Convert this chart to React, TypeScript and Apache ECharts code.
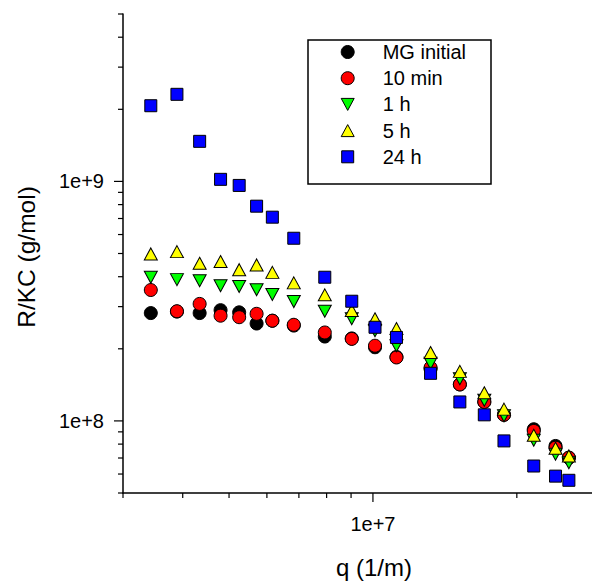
import React, { useEffect, useRef } from 'react';
import * as echarts from 'echarts';

const qValues = [3.43e6, 3.89e6, 4.34e6, 4.80e6, 5.25e6, 5.71e6, 6.16e6, 6.83e6, 7.93e6, 9.03e6, 1.01e7, 1.12e7, 1.32e7, 1.52e7, 1.71e7, 1.88e7, 2.17e7, 2.41e7, 2.57e7];
const mgInitial = [2.82e8, 2.86e8, 2.82e8, 2.90e8, 2.84e8, 2.55e8, 2.62e8, 2.50e8, 2.25e8, 2.21e8, 2.03e8, 1.85e8, 1.65e8, 1.42e8, 1.20e8, 1.06e8, 9.23e7, 7.86e7, 7.02e7];
const tenMin = [3.52e8, 2.87e8, 3.08e8, 2.75e8, 2.71e8, 2.80e8, 2.62e8, 2.52e8, 2.34e8, 2.20e8, 2.06e8, 1.84e8, 1.67e8, 1.42e8, 1.20e8, 1.06e8, 9.08e7, 7.73e7, 7.02e7];
const oneHour = [3.98e8, 3.89e8, 3.85e8, 3.67e8, 3.64e8, 3.53e8, 3.37e8, 3.15e8, 2.87e8, 2.67e8, 2.38e8, 2.06e8, 1.74e8, 1.50e8, 1.22e8, 1.05e8, 8.30e7, 7.26e7, 6.69e7];
const fiveHour = [4.98e8, 5.09e8, 4.55e8, 4.63e8, 4.28e8, 4.48e8, 4.17e8, 3.77e8, 3.36e8, 2.89e8, 2.67e8, 2.43e8, 1.93e8, 1.61e8, 1.31e8, 1.12e8, 8.71e7, 7.69e7, 7.14e7];
const day = [2.07e9, 2.31e9, 1.47e9, 1.02e9, 9.62e8, 7.88e8, 7.09e8, 5.79e8, 3.98e8, 3.16e8, 2.46e8, 2.23e8, 1.58e8, 1.20e8, 1.06e8, 8.25e7, 6.48e7, 5.88e7, 5.65e7];

const seriesNames = ['MG initial', '10 min', '1 h', '5 h', '24 h'];
const xTicks = [3e6, 4e6, 5e6, 6e6, 7e6, 8e6, 9e6, 1e7, 2e7, 3e7];
const yTicks = [5e7, 6e7, 7e7, 8e7, 9e7, 1e8, 2e8, 3e8, 4e8, 5e8, 6e8, 7e8, 8e8, 9e8, 1e9, 2e9, 3e9, 4e9, 5e9];
const X_MIN = 3e6, X_MAX = 3e7, Y_MIN = 5e7, Y_MAX = 5e9;

const FONT = '"Liberation Sans", Arial, sans-serif';

function isPow10(v: number) {
  const l = Math.log10(v);
  return Math.abs(l - Math.round(l)) < 1e-6;
}

export default function App() {
  const ref = useRef<HTMLDivElement>(null);
  useEffect(() => {
    document.body.style.margin = '0';
    const chart = echarts.init(ref.current!, null, { renderer: 'svg' });
    const pairs = (ys: number[]) => qValues.map((q, i) => [q, ys[i]]);
    const scatter = (name: string, ys: number[], symbol: string, color: string, size: any, rotate = 0) => ({
      type: 'scatter',
      name,
      data: pairs(ys),
      symbol,
      symbolSize: size,
      symbolRotate: rotate,
      itemStyle: { color, borderColor: '#000', borderWidth: 1, opacity: 1 },
      emphasis: { disabled: true },
    });
    const tickLine = '#000';
    const legendX = 347.7;
    const legendY0 = 52;
    const step = 26.2;
    const legendColors = ['#000000', '#ff0000', '#00ff00', '#ffff00', '#0000ff'];
    const legendGraphics: any[] = [
      { type: 'rect', shape: { x: 308, y: 40, width: 183, height: 144 }, style: { fill: '#fff', stroke: '#000', lineWidth: 1.5 }, z: 10 },
    ];
    seriesNames.forEach((n, i) => {
      const cy = legendY0 + i * step;
      const st = { fill: legendColors[i], stroke: '#000', lineWidth: 1 };
      let sym: any;
      if (i < 2) sym = { type: 'circle', shape: { cx: legendX, cy, r: 6.5 }, style: st };
      else if (i === 2) sym = { type: 'polygon', shape: { points: [[legendX - 6.5, cy - 6], [legendX + 6.5, cy - 6], [legendX, cy + 6]] }, style: st };
      else if (i === 3) sym = { type: 'polygon', shape: { points: [[legendX, cy - 6], [legendX + 6.5, cy + 6], [legendX - 6.5, cy + 6]] }, style: st };
      else sym = { type: 'rect', shape: { x: legendX - 6, y: cy - 6, width: 12, height: 12 }, style: st };
      sym.z = 11;
      legendGraphics.push(sym);
      legendGraphics.push({ type: 'text', x: 382.7, y: cy, z: 11, style: { text: n, fontSize: 20, fontFamily: FONT, fill: '#000', verticalAlign: 'middle' } });
    });

    chart.setOption({
      animation: false,
      backgroundColor: '#fff',
      grid: { left: 123, top: 14, width: 478, height: 479, containLabel: false, outerBoundsMode: 'none' },
      xAxis: {
        type: 'log', logBase: 10, min: X_MIN, max: X_MAX,
        axisLine: { show: true, lineStyle: { color: '#000', width: 1.5 } },
        axisTick: { show: false }, splitLine: { show: false },
        axisLabel: { margin: 21, fontSize: 20, fontFamily: FONT, color: '#000', formatter: (v: number) => (isPow10(v) ? '1e+' + Math.round(Math.log10(v)) : '') },
      },
      yAxis: {
        type: 'log', logBase: 10, min: Y_MIN, max: Y_MAX,
        axisLine: { show: true, lineStyle: { color: '#000', width: 1.5 } },
        axisTick: { show: false }, splitLine: { show: false },
        axisLabel: { margin: 19, fontSize: 20, fontFamily: FONT, color: '#000', formatter: (v: number) => (isPow10(v) ? '1e+' + Math.round(Math.log10(v)) : '') },
      },
      graphic: [
        { type: 'text', x: 374, y: 567, style: { text: 'q (1/m)', fontSize: 24, fontFamily: FONT, fill: '#000', align: 'center', verticalAlign: 'middle' } },
        { type: 'text', x: 26, y: 257, rotation: Math.PI / 2, style: { text: 'R/KC (g/mol)', fontSize: 24.5, fontFamily: FONT, fill: '#000', align: 'center', verticalAlign: 'middle' } },
        ...legendGraphics,
      ],
      series: [
        {
          type: 'custom', name: 'xticks', silent: true, clip: false,
          data: xTicks.map((v) => [v, Y_MIN]),
          renderItem: (params: any, api: any) => {
            const v = api.value(0);
            const p = api.coord([v, api.value(1)]);
            const len = isPow10(v) ? 9 : 5;
            return { type: 'line', shape: { x1: p[0], y1: p[1], x2: p[0], y2: p[1] + len }, style: { stroke: tickLine, lineWidth: 1.2 } };
          },
        },
        {
          type: 'custom', name: 'yticks', silent: true, clip: false,
          data: yTicks.map((v) => [X_MIN, v]),
          renderItem: (params: any, api: any) => {
            const v = api.value(1);
            const p = api.coord([api.value(0), v]);
            const len = isPow10(v) ? 9 : 5;
            return { type: 'line', shape: { x1: p[0], y1: p[1], x2: p[0] - len, y2: p[1] }, style: { stroke: tickLine, lineWidth: 1.2 } };
          },
        },
        scatter(seriesNames[0], mgInitial, 'circle', '#000000', 13),
        scatter(seriesNames[1], tenMin, 'circle', '#ff0000', 13),
        scatter(seriesNames[2], oneHour, 'triangle', '#00ff00', [13, 12], 180),
        scatter(seriesNames[3], fiveHour, 'triangle', '#ffff00', [13, 12]),
        scatter(seriesNames[4], day, 'rect', '#0000ff', 12),
      ],
    });
    return () => chart.dispose();
  }, []);
  return <div ref={ref} style={{ width: 592, height: 582 }} />;
}
